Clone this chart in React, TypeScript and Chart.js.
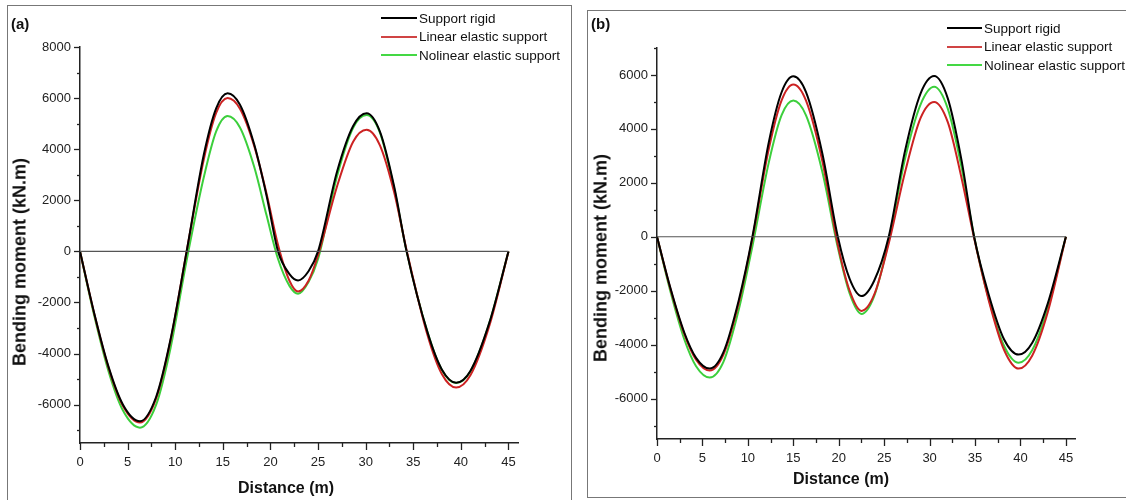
import React, { useEffect, useRef } from "react";
import { Chart, registerables } from "chart.js";
Chart.register(...registerables);

// ---------- Panel (a) data ----------
const distanceA = [0, 1.5, 3, 4.5, 6.3, 8, 9.5, 11.2, 13, 14.3, 15.5, 16.8, 18.3, 19.6, 20.8, 22, 22.9, 24, 25, 27, 28.7, 30.1, 31.5, 33, 34.3, 36.5, 38, 39.5, 41, 43, 45];
const rigidA = [0, -2430, -4520, -5990, -6650, -5690, -3460, 0, 3780, 5600, 6190, 5740, 4180, 2170, 0, -890, -1140, -780, 0, 3130, 4920, 5410, 4690, 2530, 0, -3170, -4620, -5140, -4680, -2780, 0];
const linearA = [0, -2450, -4560, -6040, -6700, -5750, -3500, 0, 3600, 5420, 6000, 5580, 4120, 2250, 250, -1150, -1570, -1150, -150, 2550, 4300, 4760, 4150, 2300, 50, -3280, -4800, -5330, -4850, -2900, 0];
const nonlinearA = [0, -2520, -4700, -6220, -6900, -6000, -3800, -350, 2900, 4700, 5300, 4850, 3300, 1400, -300, -1350, -1660, -1200, -300, 2950, 4850, 5340, 4650, 2450, 0, -3170, -4640, -5150, -4700, -2800, 0];

// ---------- Panel (b) data ----------
const distanceB = [0, 1.5, 3, 4.3, 5.8, 7.3, 9, 10.5, 12.3, 13.7, 15, 16.4, 18.2, 19.9, 21.2, 22.5, 23.9, 25.5, 27.3, 29, 30.5, 32, 33.5, 34.9, 36.5, 38.2, 39.8, 41.3, 43, 45];
const rigidB = [0, -1930, -3550, -4490, -4890, -4290, -2350, 0, 3500, 5350, 5950, 5360, 3080, 0, -1560, -2200, -1630, 0, 3190, 5310, 5960, 5130, 2860, 0, -2140, -3810, -4370, -3930, -2480, 0];
const linearB = [0, -1960, -3600, -4560, -4960, -4380, -2450, -60, 3250, 5050, 5650, 5050, 2800, -300, -2000, -2750, -2150, -250, 2400, 4400, 5000, 4250, 2200, -50, -2350, -4200, -4890, -4400, -2800, 0];
const nonlinearB = [0, -2060, -3800, -4800, -5220, -4650, -2700, -350, 2750, 4500, 5050, 4500, 2400, -400, -2100, -2860, -2200, -150, 2900, 4900, 5560, 4750, 2600, 0, -2300, -4050, -4670, -4200, -2650, 0];

// zero reference line
const zeroLineX = [0, 45];
const zeroLineY = [0, 0];

// tick positions (major ticks carry labels, minor ticks are unlabeled)
const xTicks = [0, 2.5, 5, 7.5, 10, 12.5, 15, 17.5, 20, 22.5, 25, 27.5, 30, 32.5, 35, 37.5, 40, 42.5, 45];
const xLabelTicks = [0, 5, 10, 15, 20, 25, 30, 35, 40, 45];
const yTicksA = [-7000, -6000, -5000, -4000, -3000, -2000, -1000, 0, 1000, 2000, 3000, 4000, 5000, 6000, 7000, 8000];
const yTicksB = [-7000, -6000, -5000, -4000, -3000, -2000, -1000, 0, 1000, 2000, 3000, 4000, 5000, 6000, 7000];
const yLabelTicks = [-6000, -4000, -2000, 0, 2000, 4000, 6000, 8000];

const seriesNames = ["Support rigid", "Linear elastic support", "Nolinear elastic support"];
const seriesColors = ["#000000", "#cc2222", "#3ccf3c"];
const legendColors = ["#000000", "#d04444", "#44d844"];

const FONT = '"Liberation Sans", Arial, Helvetica, sans-serif';

const tickPlugin = {
  id: "customTicks",
  afterDraw(chart: any) {
    const ctx = chart.ctx;
    const xs = chart.scales.x;
    const ys = chart.scales.y;
    ctx.save();
    ctx.strokeStyle = "#222";
    ctx.lineWidth = 1.3;
    xs.ticks.forEach((t: any) => {
      const v = t.value;
      const major = xLabelTicks.includes(v);
      const px = Math.round(xs.getPixelForValue(v)) + 0.5;
      ctx.beginPath();
      ctx.moveTo(px, xs.top);
      ctx.lineTo(px, xs.top + (major ? 7 : 4));
      ctx.stroke();
    });
    ys.ticks.forEach((t: any) => {
      const v = t.value;
      const major = yLabelTicks.includes(v);
      const py = Math.round(ys.getPixelForValue(v)) + 0.5;
      ctx.beginPath();
      ctx.moveTo(ys.right, py);
      ctx.lineTo(ys.right - (major ? 6 : 3), py);
      ctx.stroke();
    });
    ctx.restore();
  },
};

type PanelProps = {
  left: number;
  width: number;
  distance: number[];
  series: number[][];
  yMin: number;
  yMax: number;
  yTicks: number[];
  yAxisWidth: number;
  xAxisHeight: number;
  padTop: number;
  padRight: number;
};

function ChartPanel(p: PanelProps) {
  const ref = useRef<HTMLCanvasElement | null>(null);
  useEffect(() => {
    if (!ref.current) return;
    const datasets: any[] = p.series.map((vals, i) => ({
      label: seriesNames[i],
      data: p.distance.map((d, k) => ({ x: d, y: vals[k] })),
      borderColor: seriesColors[i],
      backgroundColor: seriesColors[i],
      borderWidth: 2,
      pointRadius: 0,
      cubicInterpolationMode: "monotone",
      fill: false,
    }));
    datasets.unshift({
      label: "zero",
      data: zeroLineX.map((d, k) => ({ x: d, y: zeroLineY[k] })),
      borderColor: "#555555",
      borderWidth: 1.2,
      pointRadius: 0,
      fill: false,
    });
    const chart = new Chart(ref.current, {
      type: "line",
      data: { datasets },
      plugins: [tickPlugin],
      options: {
        animation: false,
        responsive: false,
        maintainAspectRatio: false,
        layout: { padding: { left: 0, top: p.padTop, right: p.padRight, bottom: 0 } },
        plugins: { legend: { display: false }, tooltip: { enabled: false } },
        scales: {
          x: {
            type: "linear",
            min: 0,
            max: 46,
            afterBuildTicks: (s: any) => {
              s.ticks = xTicks.map((v) => ({ value: v }));
            },
            afterFit: (s: any) => {
              s.height = p.xAxisHeight;
            },
            grid: { display: true, drawOnChartArea: false, drawTicks: false },
            border: { display: true, color: "#222", width: 1.5 },
            ticks: {
              autoSkip: false,
              maxRotation: 0,
              padding: 12,
              color: "#222",
              font: { family: FONT, size: 13 },
              callback: (v: any) => (xLabelTicks.includes(v) ? String(v) : ""),
            },
          },
          y: {
            type: "linear",
            min: p.yMin,
            max: p.yMax,
            afterBuildTicks: (s: any) => {
              s.ticks = p.yTicks.map((v) => ({ value: v }));
            },
            afterFit: (s: any) => {
              s.width = p.yAxisWidth;
            },
            grid: { display: true, drawOnChartArea: false, drawTicks: false },
            border: { display: true, color: "#222", width: 1.5 },
            ticks: {
              autoSkip: false,
              padding: 9,
              color: "#222",
              font: { family: FONT, size: 13 },
              callback: (v: any) => (yLabelTicks.includes(v) ? String(v) : ""),
            },
          },
        },
      } as any,
    });
    return () => chart.destroy();
  }, []);
  return (
    <canvas
      ref={ref}
      width={p.width}
      height={500}
      style={{ position: "absolute", left: p.left, top: 0, width: p.width, height: 500 }}
    />
  );
}

function Legend({ left, top, lineW, fontSize, gap }: { left: number; top: number; lineW: number; fontSize: number; gap: number }) {
  return (
    <div style={{ position: "absolute", left, top, fontFamily: FONT, fontSize, color: "#111" }}>
      {seriesNames.map((n, i) => (
        <div key={n} style={{ display: "flex", alignItems: "center", height: gap, whiteSpace: "nowrap" }}>
          <span style={{ display: "inline-block", width: lineW, height: 2, background: legendColors[i], marginRight: 2 }} />
          <span>{n}</span>
        </div>
      ))}
    </div>
  );
}

export default function App() {
  const bold = { fontFamily: FONT, fontWeight: 700, color: "#111", position: "absolute" as const, whiteSpace: "nowrap" as const };
  return (
    <div style={{ position: "fixed", left: 0, top: 0, width: 1126, height: 500, overflow: "hidden", background: "#fff" }}>
      {/* panel borders */}
      <div style={{ position: "absolute", left: 7, top: 5, width: 565, height: 520, border: "1.5px solid #777", boxSizing: "border-box" }} />
      <div style={{ position: "absolute", left: 587, top: 10, width: 560, height: 488, border: "1.5px solid #777", boxSizing: "border-box" }} />

      <ChartPanel left={0} width={573} distance={distanceA} series={[rigidA, linearA, nonlinearA]} yMin={-7500} yMax={8000} yTicks={yTicksA} yAxisWidth={80} xAxisHeight={57} padTop={47} padRight={55} />
      <ChartPanel left={587} width={539} distance={distanceB} series={[rigidB, linearB, nonlinearB]} yMin={-7500} yMax={7000} yTicks={yTicksB} yAxisWidth={70} xAxisHeight={61} padTop={48} padRight={51} />

      {/* panel labels */}
      <div style={{ ...bold, left: 11, top: 15, fontSize: 15 }}>(a)</div>
      <div style={{ ...bold, left: 591, top: 15, fontSize: 15 }}>(b)</div>

      {/* axis titles */}
      <div style={{ ...bold, left: 286, top: 488, fontSize: 16, transform: "translate(-50%, -50%)" }}>Distance (m)</div>
      <div style={{ ...bold, left: 841, top: 479, fontSize: 16, transform: "translate(-50%, -50%)" }}>Distance (m)</div>
      <div style={{ ...bold, left: 20, top: 262, fontSize: 18, transform: "translate(-50%, -50%) rotate(-90deg)" }}>Bending moment (kN.m)</div>
      <div style={{ ...bold, left: 601, top: 258, fontSize: 18, transform: "translate(-50%, -50%) rotate(-90deg)" }}>Bending moment (kN.m)</div>

      {/* legends */}
      <Legend left={381} top={9} lineW={36} fontSize={13.5} gap={18.5} />
      <Legend left={947} top={19} lineW={35} fontSize={13.5} gap={18.5} />
    </div>
  );
}
